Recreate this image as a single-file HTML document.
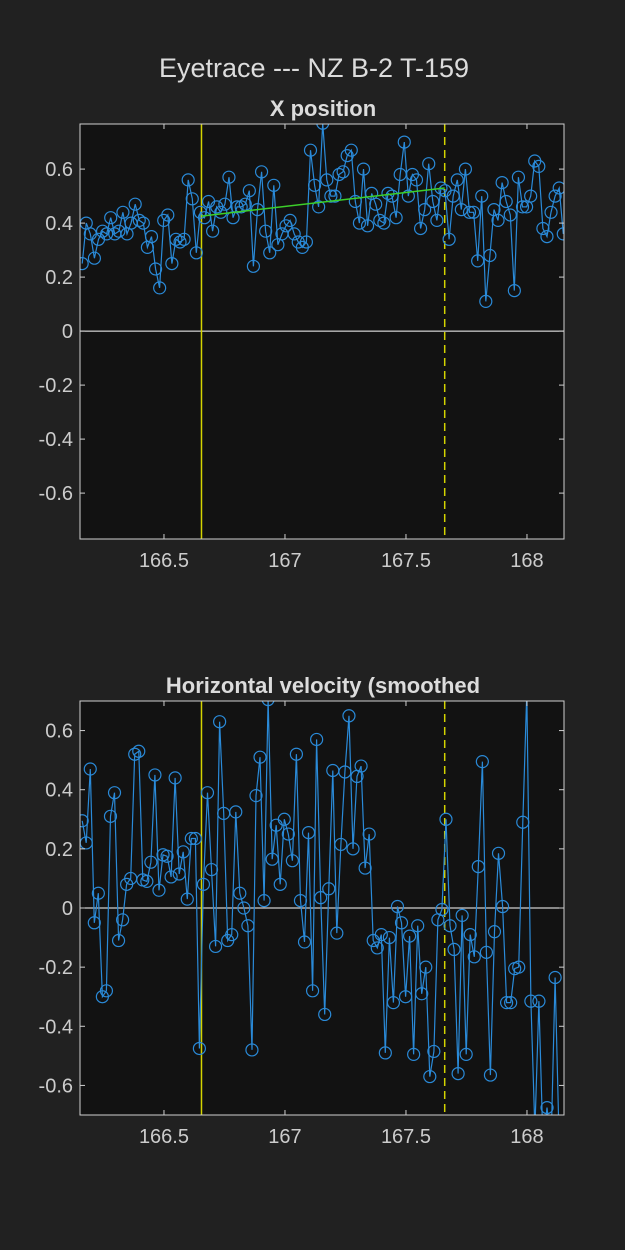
<!DOCTYPE html>
<html><head><meta charset="utf-8"><style>
body{margin:0;background:#212121;}
svg{display:block;font-family:"Liberation Sans",sans-serif;}
</style></head><body>
<svg id="fig" width="625" height="1250">
<rect width="625" height="1250" fill="#212121"/>
<text x="314" y="77" fill="#dcdcdc" font-size="27" text-anchor="middle">Eyetrace --- NZ B-2 T-159</text>
<text x="323" y="116" fill="#dcdcdc" font-size="22" font-weight="bold" text-anchor="middle">X position</text>
<text x="323" y="693" fill="#dcdcdc" font-size="22" font-weight="bold" text-anchor="middle">Horizontal velocity (smoothed</text>
<g id="p1"></g>
<g id="p2"></g>
</svg>
<script>
const xTicks=[166.5,167,167.5,168];
const xTickLabels=["166.5","167","167.5","168"];
const yTicks1=[-0.6,-0.4,-0.2,0,0.2,0.4,0.6];
const yTickLabels1=["-0.6","-0.4","-0.2","0","0.2","0.4","0.6"];
const yTicks2=[-0.6,-0.4,-0.2,0,0.2,0.4,0.6];
const yTickLabels2=["-0.6","-0.4","-0.2","0","0.2","0.4","0.6"];
const tStart=166.162, tEndPos=168.150, tEndVel=168.133;
const stimOn=166.655, stimOff=167.66;
const fitLine=[0.426,0.53];
const posValues=[0.25,0.40,0.36,0.27,0.34,0.37,0.36,0.42,0.36,0.37,0.44,0.36,0.40,0.47,0.41,0.40,0.31,0.35,0.23,0.16,0.41,0.43,0.25,0.34,0.33,0.34,0.56,0.49,0.29,0.44,0.42,0.48,0.37,0.46,0.44,0.47,0.57,0.42,0.46,0.46,0.47,0.52,0.24,0.45,0.59,0.37,0.29,0.54,0.32,0.36,0.39,0.41,0.36,0.33,0.31,0.33,0.67,0.54,0.46,0.77,0.56,
0.50,0.50,0.58,0.59,0.65,0.67,0.48,0.40,0.60,0.39,0.51,0.47,0.41,0.40,0.51,0.50,0.42,0.58,0.70,0.50,0.58,0.56,0.38,0.45,0.62,0.48,0.41,0.53,0.52,0.34,0.50,0.56,0.45,0.60,0.44,0.44,0.26,0.50,0.11,0.28,0.45,0.41,0.55,0.48,0.43,0.15,0.57,0.46,0.46,0.50,0.63,0.61,0.38,0.35,0.44,0.50,0.53,0.36];
const velValues=[0.295,0.22,0.47,-0.05,0.05,-0.30,-0.28,0.31,0.39,-0.11,-0.04,0.08,0.10,0.52,0.53,0.095,0.09,0.155,0.45,0.06,0.18,0.175,0.105,0.44,0.115,0.19,0.03,0.235,0.235,-0.475,0.08,0.39,0.13,-0.13,0.63,0.32,-0.11,-0.09,0.325,0.05,0.0,-0.06,-0.48,0.38,0.51,0.025,0.705,0.165,0.28,0.08,0.30,0.25,0.16,0.52,0.025,-0.115,0.255,-0.28,0.57,0.035,-0.36,0.065,
0.465,-0.085,0.215,0.46,0.65,0.20,0.445,0.48,0.135,0.25,-0.11,-0.135,-0.09,-0.49,-0.10,-0.32,0.005,-0.05,-0.30,-0.095,-0.495,-0.06,-0.29,-0.20,-0.57,-0.485,-0.04,-0.005,0.30,-0.06,-0.14,-0.56,-0.025,-0.495,-0.09,-0.165,0.14,0.495,-0.15,-0.565,-0.08,0.185,0.005,-0.32,-0.32,-0.205,-0.20,0.29,0.73,-0.315,-0.75,-0.315,-0.8,-0.675,-0.8,-0.235,-0.8];

const NS="http://www.w3.org/2000/svg";
function mk(tag,attrs,parent){const e=document.createElementNS(NS,tag);for(const k in attrs)e.setAttribute(k,attrs[k]);parent.appendChild(e);return e;}

function panel(g,id,top,bottom,ymin,ymax,yTicks,yLabels,vals,tEnd,fit){
  const L=80,R=564,xmin=166.153,xmax=168.153;
  const X=t=>L+(t-xmin)/(xmax-xmin)*(R-L);
  const Y=v=>bottom-(v-ymin)/(ymax-ymin)*(bottom-top);
  const step=(tEnd-tStart)/(vals.length-1);
  const bg=mk('rect',{x:L,y:top,width:R-L,height:bottom-top,fill:'#121212'},g);
  
  
  const cp=mk('clipPath',{id:'clip'+id},g);
  mk('rect',{x:L,y:top,width:R-L,height:bottom-top},cp);
  const z=mk('line',{x1:L,x2:R,y1:Y(0),y2:Y(0),stroke:'#ffffff','stroke-width':1},g);
  
  
  const s1=mk('line',{x1:X(stimOn),x2:X(stimOn),y1:top,y2:bottom,stroke:'#d4d400','stroke-width':1.5},g);
  
  
  const s2=mk('line',{x1:X(stimOff),x2:X(stimOff),y1:top,y2:bottom,stroke:'#d4d400','stroke-width':1.5,'stroke-dasharray':'8,5'},g);
  
  
  const dg=mk('g',{'clip-path':'url(#clip'+id+')'},g);
  
  
  let d='';
  vals.forEach((v,i)=>{d+=(i?'L':'M')+X(tStart+i*step).toFixed(1)+','+Y(v).toFixed(1);});
  const ln=mk('path',{d:d,fill:'none',stroke:'#2a8ad8','stroke-width':1.2},dg);
  
  
  vals.forEach((v,i)=>{
    const c=mk('circle',{cx:X(tStart+i*step),cy:Y(v),r:6,fill:'none',stroke:'#2a8ad8','stroke-width':1.2},dg);
    
    
  });
  if(fit){
    const f=mk('line',{x1:X(stimOn),y1:Y(fit[0]),x2:X(stimOff),y2:Y(fit[1]),stroke:'#3ccf2a','stroke-width':1.5},dg);
    
    
  }
  const box=mk('rect',{x:L,y:top,width:R-L,height:bottom-top,fill:'none',stroke:'#d0d0d0','stroke-width':1},g);
  
  
  xTicks.forEach((t,i)=>{
    const x=X(t);
    mk('line',{x1:x,x2:x,y1:bottom,y2:bottom-5,stroke:'#d0d0d0'},g);
    mk('line',{x1:x,x2:x,y1:top,y2:top+5,stroke:'#d0d0d0'},g);
    const tx=mk('text',{x:x,y:bottom+28,fill:'#cccccc','font-size':20,'text-anchor':'middle'},g);
    tx.textContent=xTickLabels[i];
    
    
  });
  yTicks.forEach((v,i)=>{
    const y=Y(v);
    mk('line',{x1:L,x2:L+5,y1:y,y2:y,stroke:'#d0d0d0'},g);
    mk('line',{x1:R,x2:R-5,y1:y,y2:y,stroke:'#d0d0d0'},g);
    const tx=mk('text',{x:L-7,y:y+7,fill:'#cccccc','font-size':20,'text-anchor':'end'},g);
    tx.textContent=yLabels[i];
    
    
  });
}
panel(document.getElementById('p1'),1,124,539,-0.77,0.767,yTicks1,yTickLabels1,posValues,tEndPos,fitLine);
panel(document.getElementById('p2'),2,701,1115,-0.70,0.70,yTicks2,yTickLabels2,velValues,tEndVel,null);
</script>
</body></html>
